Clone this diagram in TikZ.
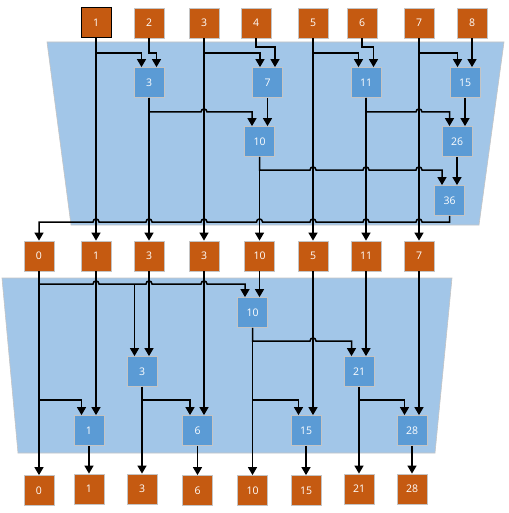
\documentclass[tikz,border=0pt]{standalone}
\usepackage{fontspec}
\setmainfont{Open Sans}
\usetikzlibrary{arrows.meta,calc}
\definecolor{org}{HTML}{C55A11}
\definecolor{blu}{HTML}{5B9BD5}
\definecolor{panecol}{HTML}{A2C6E8}
\definecolor{edgecol}{HTML}{C4C4C4}
\begin{document}
\begin{tikzpicture}[x=1pt,y=-1pt,
 box/.style={minimum width=30pt,minimum height=30pt,inner sep=0pt,draw=edgecol,line width=0.8pt,text=white,font=\fontsize{10.5}{12}\selectfont},
 obox/.style={box,fill=org},
 bbox/.style={box,fill=blu},
 arr/.style={line width=1.5pt,-{Triangle[width=9pt,length=8pt]}},
 hop/.style args={#1/#2}{insert path={-- (#1-3,#2) .. controls (#1-3,#2-4) and (#1+3,#2-4) .. (#1+3,#2)}},
 hopl/.style args={#1/#2}{insert path={-- (#1+3,#2) .. controls (#1+3,#2-4) and (#1-3,#2-4) .. (#1-3,#2)}},
 panel/.style={fill=panecol,draw=edgecol,line width=0.6pt}]
\useasboundingbox[fill=white] (0,0) rectangle (508,513);
% panels
\path[panel] (47,42) -- (504,42) -- (479,225) -- (71,225) -- cycle;
\path[panel] (2,278) -- (452,278) -- (435,453) -- (18,453) -- cycle;
% top row
\node[obox,draw=black,line width=1pt] (t1) at (96,23) {1};
\node[obox] (t2) at (149,23) {2};
\node[obox] (t3) at (204,23) {3};
\node[obox] (t4) at (256,23) {4};
\node[obox] (t5) at (313,23) {5};
\node[obox] (t6) at (362,23) {6};
\node[obox] (t7) at (419,23) {7};
\node[obox] (t8) at (472,23) {8};
% up-sweep
\node[bbox] (a3) at (149,82.5) {3};
\node[bbox] (a7) at (267.5,82.5) {7};
\node[bbox] (a11) at (366,82.5) {11};
\node[bbox] (a15) at (465,82.5) {15};
\node[bbox] (a10) at (259.5,141.5) {10};
\node[bbox] (a26) at (457,141.5) {26};
\node[bbox] (a36) at (449.5,200.5) {36};
% middle row
\node[obox] (m0) at (39,256) {0};
\node[obox] (m1) at (96,256) {1};
\node[obox] (m3a) at (149,256) {3};
\node[obox] (m3b) at (204,256) {3};
\node[obox] (m10) at (259.5,256) {10};
\node[obox] (m5) at (313,256) {5};
\node[obox] (m11) at (366,256) {11};
\node[obox] (m7) at (419,256) {7};
% down-sweep
\node[bbox] (b10) at (252.5,312.5) {10};
\node[bbox] (b3) at (142,371.5) {3};
\node[bbox] (b21) at (359,371.5) {21};
\node[bbox] (b1) at (89,430.5) {1};
\node[bbox] (b6) at (197.5,430.5) {6};
\node[bbox] (b15) at (306,430.5) {15};
\node[bbox] (b28) at (412,430.5) {28};
% bottom row
\node[obox] (c0) at (39,490.5) {0};
\node[obox] (c1) at (89,489) {1};
\node[obox] (c3) at (142,489) {3};
\node[obox] (c6) at (197.5,490.5) {6};
\node[obox] (c10) at (252.5,490.5) {10};
\node[obox] (c15) at (306,490.5) {15};
\node[obox] (c21) at (359,489) {21};
\node[obox] (c28) at (412,489) {28};
% top half connectors
\draw[arr] (t1.south) -- (96,53) -- (141.5,53) -- ([xshift=-7.5pt]a3.north);
\draw[arr] (t1) -- (m1);
\draw[arr] (t2.south) -- (149,53) -- (156.5,53) -- ([xshift=7.5pt]a3.north);
\draw[arr] (t3.south) -- (204,53) -- (260,53) -- ([xshift=-7.5pt]a7.north);
\draw[arr] (t3) -- (m3b);
\draw[arr] (t4.south) -- (256,47) -- (275,47) -- ([xshift=7.5pt]a7.north);
\draw[arr] (t5.south) -- (313,53) -- (358.5,53) -- ([xshift=-7.5pt]a11.north);
\draw[arr] (t5) -- (m5);
\draw[arr] (t6.south) -- (362,47) -- (373.5,47) -- ([xshift=7.5pt]a11.north);
\draw[arr] (t7.south) -- (419,53) -- (457.5,53) -- ([xshift=-7.5pt]a15.north);
\draw[arr] (t7) -- (m7);
\draw[arr] (t8.south) -- (t8.south |- a15.north);
\draw[arr] (a3.south) -- (149,112) [hop=204/112] -- (252,112) -- ([xshift=-7.5pt]a10.north);
\draw[arr] (a3) -- (m3a);
\draw[arr] (a7.south) -- (a7.south |- a10.north);
\draw[arr] (a11.south) -- (366,112) [hop=419/112] -- (449.5,112) -- ([xshift=-7.5pt]a26.north);
\draw[arr] (a11) -- (m11);
\draw[arr] (a15.south) -- (a15.south |- a26.north);
\draw[arr] (a10.south) -- (259.5,170) [hop=313/170, hop=366/170, hop=419/170] -- (442,170) -- ([xshift=-7.5pt]a36.north);
\draw[arr] (a10) -- (m10);
\draw[arr] (a26.south) -- (a26.south |- a36.north);
\draw[arr] (a36.south) -- (449.5,222) [hopl=419/222, hopl=366/222, hopl=313/222, hopl=259.5/222, hopl=204/222, hopl=149/222, hopl=96/222] -- (39,222) -- (m0.north);
% bottom half connectors
\draw[arr] (m0.south) -- (39,284) [hop=96/284, hop=149/284, hop=204/284] -- (245,284) -- ([xshift=-7.5pt]b10.north);
\coordinate (j1) at (134.5,284);
\draw[arr] (j1) -- ([xshift=-7.5pt]b3.north);
\draw[arr] (m0) -- (c0);
\draw[arr] (m0.south) -- (39,400) -- (81.5,400) -- ([xshift=-7.5pt]b1.north);
\draw[arr] (m1.south) -- (m1.south |- b1.north);
\draw[arr] (m3a.south) -- (m3a.south |- b3.north);
\draw[arr] (m3b.south) -- (m3b.south |- b6.north);
\draw[arr] (m10.south) -- (m10.south |- b10.north);
\draw[arr] (m5.south) -- (m5.south |- b15.north);
\draw[arr] (m11.south) -- (m11.south |- b21.north);
\draw[arr] (m7.south) -- (m7.south |- b28.north);
\draw[arr] (b10.south) -- (252.5,341) [hop=313/341] -- (351.5,341) -- ([xshift=-7.5pt]b21.north);
\draw[arr] (b10) -- (c10);
\draw[arr] (b10.south) -- (252.5,400) -- (298.5,400) -- ([xshift=-7.5pt]b15.north);
\draw[arr] (b3.south) -- (142,400) -- (190,400) -- ([xshift=-7.5pt]b6.north);
\draw[arr] (b3) -- (c3);
\draw[arr] (b21.south) -- (359,400) -- (404.5,400) -- ([xshift=-7.5pt]b28.north);
\draw[arr] (b21) -- (c21);
\draw[arr] (b1) -- (c1);
\draw[arr] (b6) -- (c6);
\draw[arr] (b15) -- (c15);
\draw[arr] (b28) -- (c28);
\end{tikzpicture}
\end{document}
